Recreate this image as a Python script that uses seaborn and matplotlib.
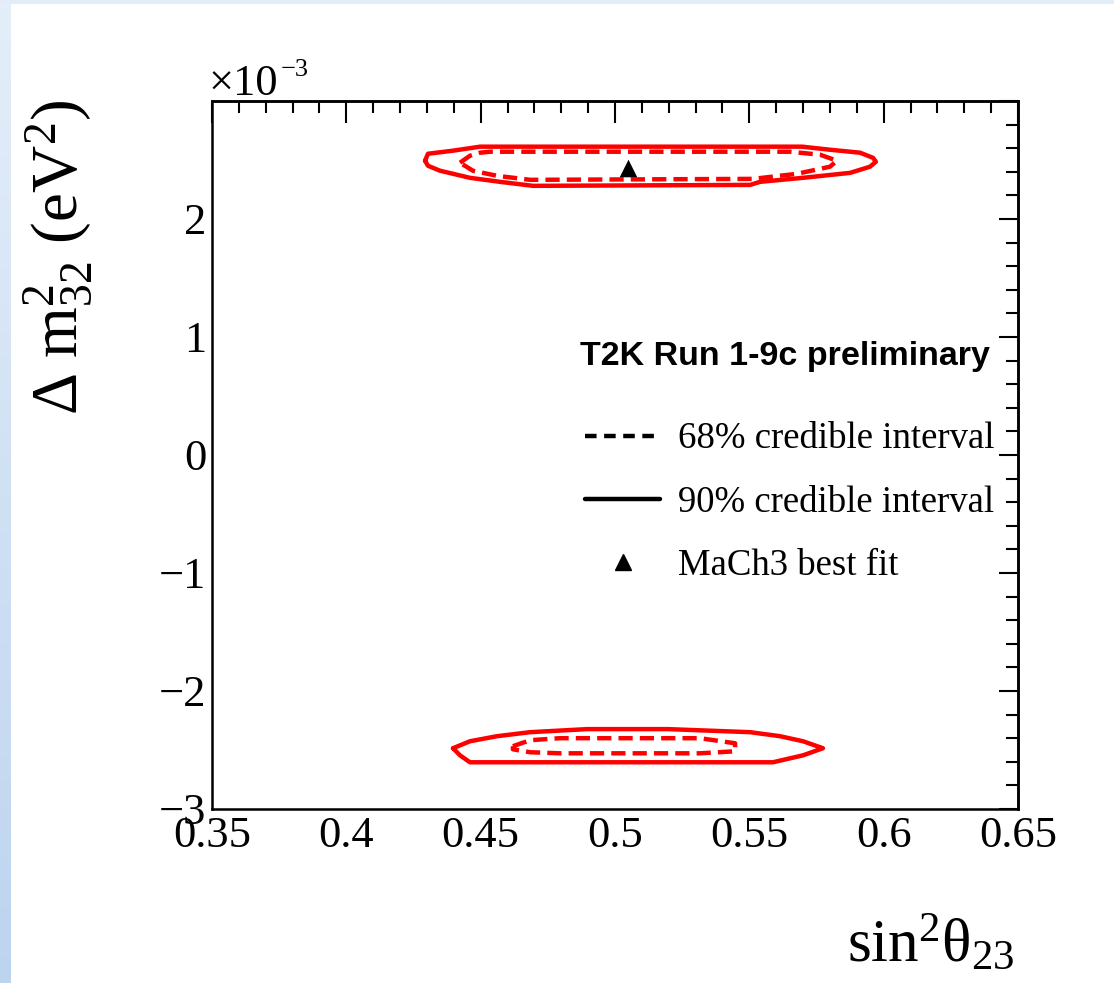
import numpy as np
import matplotlib
matplotlib.use("Agg")
import matplotlib.pyplot as plt
import seaborn as sns
from matplotlib.lines import Line2D
from matplotlib.patches import Rectangle
from matplotlib.ticker import MultipleLocator
from matplotlib.colors import LinearSegmentedColormap

# ---------------- data (y in units of 1e-3 eV^2) ----------------
# Normal ordering, 90% credible interval contour
no90_x = [0.4293, 0.4304, 0.4397, 0.4498, 0.5696, 0.5800, 0.5912, 0.5960, 0.5971, 0.5949,
          0.5875, 0.5700, 0.5540, 0.5503, 0.4695, 0.4572, 0.4460, 0.4349, 0.4304, 0.4293]
no90_y = [2.494, 2.553, 2.579, 2.613, 2.613, 2.587, 2.562, 2.519, 2.485, 2.443,
          2.391, 2.349, 2.315, 2.289, 2.281, 2.315, 2.349, 2.409, 2.451, 2.494]
# Normal ordering, 68% credible interval contour
no68_x = [0.4423, 0.4460, 0.4498, 0.4535, 0.5651, 0.5763, 0.5826, 0.5800, 0.5677, 0.5514,
          0.4684, 0.4561, 0.4471, 0.4423]
no68_y = [2.477, 2.536, 2.562, 2.570, 2.570, 2.545, 2.494, 2.443, 2.383, 2.340,
          2.332, 2.366, 2.409, 2.477]
# Inverted ordering, 90% credible interval contour
io90_x = [0.4397, 0.4460, 0.4561, 0.4684, 0.4896, 0.5197, 0.5503, 0.5614, 0.5700, 0.5774,
          0.5700, 0.5588, 0.4460, 0.4423, 0.4397]
io90_y = [-2.485, -2.426, -2.383, -2.349, -2.323, -2.323, -2.349, -2.383, -2.426, -2.485,
          -2.545, -2.604, -2.604, -2.545, -2.485]
# Inverted ordering, 68% credible interval contour
io68_x = [0.4620, 0.4684, 0.4795, 0.5316, 0.5447, 0.5447, 0.5316, 0.4795, 0.4684, 0.4620, 0.4620]
io68_y = [-2.468, -2.417, -2.400, -2.400, -2.443, -2.511, -2.528, -2.528, -2.519, -2.494, -2.468]
# Best fit
best_x = [0.505]
best_y = [2.43]

xticks = [0.35, 0.40, 0.45, 0.50, 0.55, 0.60, 0.65]
xtick_labels = ["0.35", "0.4", "0.45", "0.5", "0.55", "0.6", "0.65"]
yticks = [-3, -2, -1, 0, 1, 2, 3]
ytick_labels = ["\u22123", "\u22122", "\u22121", "0", "1", "2", ""]

legend_labels = ["68% credible interval", "90% credible interval", "MaCh3 best fit"]
header = "T2K Run 1-9c preliminary"

# ---------------- style ----------------
sns.set_style("white")
plt.rcParams["font.family"] = ["Liberation Serif", "DejaVu Serif"]
plt.rcParams["mathtext.fontset"] = "custom"
plt.rcParams["mathtext.rm"] = "Liberation Serif"
plt.rcParams["mathtext.it"] = "Liberation Serif:italic"
plt.rcParams["mathtext.bf"] = "Liberation Serif:bold"
plt.rcParams["axes.unicode_minus"] = True
for k in ["text.color", "axes.labelcolor", "xtick.color", "ytick.color", "axes.edgecolor"]:
    plt.rcParams[k] = "black"

W, H = 1114, 983
fig = plt.figure(figsize=(W / 100, H / 100), dpi=100)
fig.patch.set_facecolor("#e3edf8")

# white slide panel
fig.add_artist(Rectangle((11 / W, 0), 1 - 11 / W, 1 - 4 / H, transform=fig.transFigure,
                         facecolor="white", edgecolor="none", zorder=-10))
# left gradient strip
gax = fig.add_axes([0, 0, 11 / W, 1 - 4 / H])
grad = np.linspace(0, 1, 256).reshape(-1, 1)
cm = LinearSegmentedColormap.from_list("g", ["#bdd4ef", "#e4eef9"])
gax.imshow(grad, aspect="auto", cmap=cm, origin="lower")
gax.axis("off")

ax = fig.add_axes([212 / W, 1 - 809 / H, (1018 - 212) / W, (809 - 101) / H])
ax.set_facecolor("white")

red = "#ff0000"
dash = (0, (3.2, 1.6))
sns.lineplot(x=no90_x, y=no90_y, sort=False, estimator=None, color=red, linewidth=3.2, ax=ax)
sns.lineplot(x=no68_x, y=no68_y, sort=False, estimator=None, color=red, linewidth=3.2,
             linestyle=dash, ax=ax)
sns.lineplot(x=io90_x, y=io90_y, sort=False, estimator=None, color=red, linewidth=3.2, ax=ax)
sns.lineplot(x=io68_x, y=io68_y, sort=False, estimator=None, color=red, linewidth=3.2,
             linestyle=dash, ax=ax)
sns.scatterplot(x=best_x, y=best_y, marker="^", s=160, color="black", edgecolor="black",
                linewidth=0, ax=ax, zorder=5)

ax.set_xlim(0.35, 0.65)
ax.set_ylim(-3, 3)
ax.set_xticks(xticks, labels=xtick_labels)
ax.set_yticks(yticks, labels=ytick_labels)
ax.xaxis.set_minor_locator(MultipleLocator(0.01))
ax.yaxis.set_minor_locator(MultipleLocator(0.2))
ax.tick_params(axis="both", which="both", direction="in", width=1.5, color="black",
               labelcolor="black", labelsize=32, top=False, right=False)
ax.tick_params(axis="x", which="major", length=17, pad=5)
ax.tick_params(axis="x", which="minor", length=9.5)
ax.tick_params(axis="y", which="major", length=20, pad=4)
ax.tick_params(axis="y", which="minor", length=10)
for sp in ax.spines.values():
    sp.set_linewidth(1.8)
    sp.set_color("black")
ax.set_xlabel("")
ax.set_ylabel("")

secx = ax.secondary_xaxis("top")
secx.set_xticks(xticks)
secx.xaxis.set_minor_locator(MultipleLocator(0.01))
secx.tick_params(which="both", direction="in", width=1.5, labeltop=False)
secx.tick_params(which="major", length=16)
secx.tick_params(which="minor", length=8.5)
secx.spines["top"].set_linewidth(1.8)

secy = ax.secondary_yaxis("right")
secy.set_yticks(yticks)
secy.yaxis.set_minor_locator(MultipleLocator(0.2))
secy.tick_params(which="both", direction="in", width=1.5, labelright=False)
secy.tick_params(which="major", length=14)
secy.tick_params(which="minor", length=8.5)
secy.spines["right"].set_linewidth(1.8)

# exponent label
fig.text(208 / W, 1 - 95 / H, "\u00d710", fontsize=32, ha="left", va="baseline")
fig.text(281 / W, 1 - 76 / H, "\u22123", fontsize=19, ha="left", va="baseline")

# axis titles
fig.text(1015 / W, 1 - 962 / H, r"$\mathrm{sin}^{2}\mathrm{\theta}_{23}$", fontsize=44,
         ha="right", va="baseline")
fig.text(58 / W, 1 - 100 / H, r"$\Delta\ \mathrm{m}^{2}_{32}\ (\mathrm{eV}^{2})$",
         fontsize=47, rotation=90, ha="center", va="top")

# legend header
fig.text(990 / W, 1 - 357 / H, header, fontsize=24.5, fontweight="bold",
         family="Liberation Sans", ha="right", va="center", color="black")

handles = [
    Line2D([], [], color="black", linewidth=3.2, linestyle=(0, (2.6, 1.7))),
    Line2D([], [], color="black", linewidth=3.2),
    Line2D([], [], color="black", linestyle="none", marker="^", markersize=12),
]
ax.legend(handles, legend_labels, loc="upper left",
          bbox_to_anchor=(585 / W, 1 - 422 / H), bbox_transform=fig.transFigure,
          frameon=False, fontsize=26.5, handlelength=2.05, handletextpad=0.48,
          labelspacing=0.78, borderpad=0, borderaxespad=0, labelcolor="black")

fig.savefig("out.png", dpi=100, facecolor=fig.get_facecolor())
